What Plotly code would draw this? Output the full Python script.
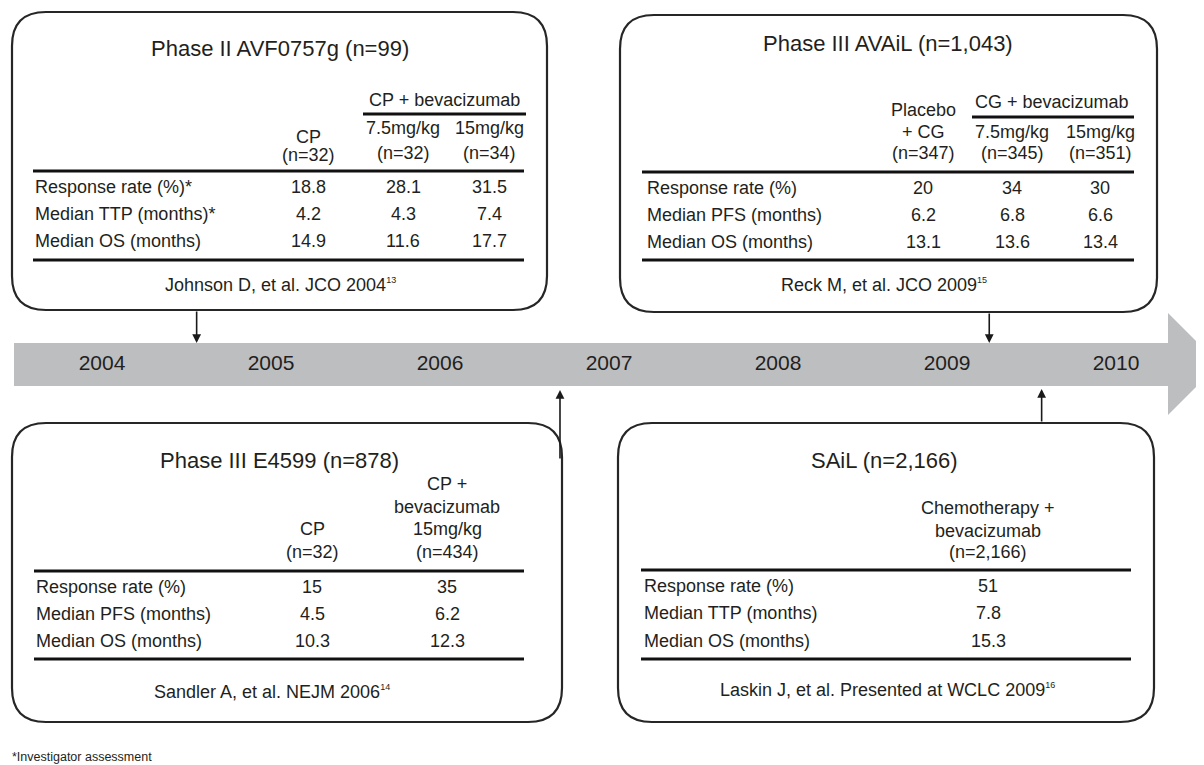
import plotly.graph_objects as go

# ---------------- data ----------------
years = [2004, 2005, 2006, 2007, 2008, 2009, 2010]

trial_titles = ["Phase II AVF0757g (n=99)", "Phase III AVAiL (n=1,043)",
                "Phase III E4599 (n=878)", "SAiL (n=2,166)"]
pub_dates = [2004.56, 2009.25, 2006.71, 2009.56]   # timeline position of each trial
cite_text = ["Johnson D, et al. JCO 2004", "Reck M, et al. JCO 2009",
             "Sandler A, et al. NEJM 2006", "Laskin J, et al. Presented at WCLC 2009"]
cite_refs = ["13", "15", "14", "16"]

avf_rows = ["Response rate (%)*", "Median TTP (months)*", "Median OS (months)"]
avf_cols = [["CP", "(n=32)"], ["7.5mg/kg", "(n=32)"], ["15mg/kg", "(n=34)"]]
avf_group = "CP + bevacizumab"
avf_vals = [["18.8", "28.1", "31.5"], ["4.2", "4.3", "7.4"], ["14.9", "11.6", "17.7"]]

avail_rows = ["Response rate (%)", "Median PFS (months)", "Median OS (months)"]
avail_cols = [["Placebo", "+ CG", "(n=347)"], ["7.5mg/kg", "(n=345)"], ["15mg/kg", "(n=351)"]]
avail_group = "CG + bevacizumab"
avail_vals = [["20", "34", "30"], ["6.2", "6.8", "6.6"], ["13.1", "13.6", "13.4"]]

e4599_rows = ["Response rate (%)", "Median PFS (months)", "Median OS (months)"]
e4599_cols = [["CP", "(n=32)"], ["CP +", "bevacizumab", "15mg/kg", "(n=434)"]]
e4599_vals = [["15", "35"], ["4.5", "6.2"], ["10.3", "12.3"]]

sail_rows = ["Response rate (%)", "Median TTP (months)", "Median OS (months)"]
sail_cols = [["Chemotherapy +", "bevacizumab", "(n=2,166)"]]
sail_vals = [["51"], ["7.8"], ["15.3"]]

footnote = "*Investigator assessment"

# ---------------- layout constants (pixels of the browser window) ----------------
W, H = 1204, 765
OFF = 8                      # default page margin of the html body
FONT = "Liberation Sans, Arial, Helvetica, sans-serif"
TXT = "#231f20"
PX_YEAR0, PX_PER_YEAR = 102, 169
yr_lo = years[0] - (PX_YEAR0 - OFF) / PX_PER_YEAR
yr_hi = yr_lo + W / PX_PER_YEAR

fig = go.Figure()
shapes, ann = [], []


def text(x, y, s, size=18, xanchor="center", xref="x"):
    ann.append(dict(x=x, y=y, xref=xref, yref="y", text=s, showarrow=False,
                    xanchor=xanchor, yanchor="middle",
                    font=dict(family=FONT, size=size, color=TXT)))


def hline(x0, x1, y, w=3.2):
    shapes.append(dict(type="line", xref="x", yref="y", x0=x0, x1=x1, y0=y, y1=y,
                       line=dict(color="#111111", width=w)))


def rrect(x0, y0, x1, y1, r=34):
    p = (f"M {x0+r},{y0} L {x1-r},{y0} Q {x1},{y0} {x1},{y0+r} "
         f"L {x1},{y1-r} Q {x1},{y1} {x1-r},{y1} L {x0+r},{y1} "
         f"Q {x0},{y1} {x0},{y1-r} L {x0},{y0+r} Q {x0},{y0} {x0+r},{y0} Z")
    shapes.append(dict(type="path", xref="x", yref="y", path=p,
                       line=dict(color="#262626", width=2.2), fillcolor="rgba(0,0,0,0)"))


# timeline band + arrow head
shapes.append(dict(type="path", xref="x", yref="y",
                   path="M 14,343 L 1168,343 L 1168,313 L 1219,364 L 1168,415 L 1168,386 L 14,386 Z",
                   fillcolor="#bdbec0", line=dict(width=0), layer="below"))
fig.add_trace(go.Scatter(x=years, y=[365] * len(years), xaxis="x2", yaxis="y",
                         mode="text", text=[str(v) for v in years],
                         textfont=dict(family=FONT, size=21, color=TXT),
                         hoverinfo="skip", showlegend=False))

# boxes: (x0, y0, x1, y1)
boxes = [(12, 12, 547, 310), (620, 15, 1157, 312), (12, 423, 562, 722), (618, 423, 1154, 722)]
for b in boxes:
    rrect(*b)

title_y = [48, 43, 460, 460]
title_x = [280, 888, 279, 884]
cite_xy = [(280, 285), (884, 285), (272, 692), (887, 690)]
for i in range(4):
    text(title_x[i], title_y[i], trial_titles[i], size=22)
    text(cite_xy[i][0], cite_xy[i][1],
         f"{cite_text[i]}<sup><span style='font-size:9px'>{cite_refs[i]}</span></sup>", size=18)


def table(label_x, rule_x0, rule_x1, rule_y, bot_y, row_ys, col_xs, rows, vals):
    hline(rule_x0, rule_x1, rule_y)
    hline(rule_x0, rule_x1, bot_y)
    for r, lab in enumerate(rows):
        text(label_x, row_ys[r], lab, xanchor="left")
        for c, v in enumerate(vals[r]):
            text(col_xs[c], row_ys[r], v)


# Box 1
b1_cols = [308, 403, 489]
text(444, 100, avf_group)
hline(363, 526, 114, w=3)
text(b1_cols[0], 137, avf_cols[0][0]); text(b1_cols[0], 155, avf_cols[0][1])
text(b1_cols[1], 128, avf_cols[1][0]); text(b1_cols[1], 153, avf_cols[1][1])
text(b1_cols[2], 128, avf_cols[2][0]); text(b1_cols[2], 153, avf_cols[2][1])
table(33, 33, 524, 171, 260, [187, 214, 241], b1_cols, avf_rows, avf_vals)

# Box 2
b2_cols = [923, 1012, 1100]
text(1052, 102, avail_group)
hline(972, 1134, 117, w=3)
for k, yy in enumerate([110, 132, 153]):
    text(b2_cols[0], yy, avail_cols[0][k])
text(b2_cols[1], 132, avail_cols[1][0]); text(b2_cols[1], 153, avail_cols[1][1])
text(b2_cols[2], 132, avail_cols[2][0]); text(b2_cols[2], 153, avail_cols[2][1])
table(645, 642, 1134, 172, 260, [188, 215, 242], b2_cols, avail_rows, avail_vals)

# Box 3
b3_cols = [312, 447]
text(b3_cols[0], 529, e4599_cols[0][0]); text(b3_cols[0], 552, e4599_cols[0][1])
for k, yy in enumerate([484, 507, 529, 552]):
    text(b3_cols[1], yy, e4599_cols[1][k])
table(34, 34, 524, 571, 659, [587, 614, 641], b3_cols, e4599_rows, e4599_vals)

# Box 4
b4_cols = [988]
for k, yy in enumerate([508, 531, 552]):
    text(b4_cols[0], yy, sail_cols[0][k])
table(642, 641, 1131, 570, 659, [586, 613, 641], b4_cols, sail_rows, sail_vals)

# connectors (tail y, tip y) from boxes to the timeline
conn = [(310, 343), (312, 343), (460, 390), (423, 389)]
for d, (ty, hy) in zip(pub_dates, conn):
    ann.append(dict(x=d, y=hy, xref="x2", yref="y", ax=d, ay=ty, axref="x2", ayref="y",
                    showarrow=True, arrowhead=2, arrowsize=1.1, arrowwidth=1.6,
                    arrowcolor="#1a1a1a", text=""))

# footnote
ann.append(dict(x=10, y=757, xref="x", yref="y", text=footnote, showarrow=False,
                xanchor="left", yanchor="middle",
                font=dict(family=FONT, size=12.5, color=TXT)))

fig.update_layout(
    width=W, height=H, margin=dict(l=0, r=0, t=0, b=0),
    paper_bgcolor="white", plot_bgcolor="white",
    xaxis=dict(range=[OFF, W + OFF], visible=False, fixedrange=True),
    xaxis2=dict(range=[yr_lo, yr_hi], overlaying="x", visible=False, fixedrange=True),
    yaxis=dict(range=[H + OFF, OFF], visible=False, fixedrange=True),
    shapes=shapes, annotations=ann, showlegend=False,
)
fig.write_html("out.html")
